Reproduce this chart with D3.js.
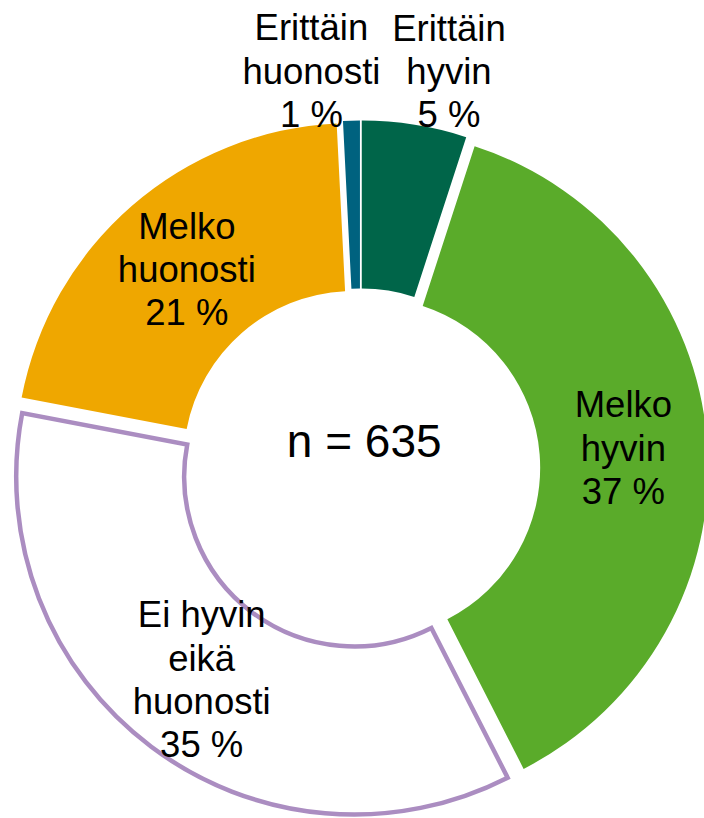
<!DOCTYPE html>
<html>
<head>
<meta charset="utf-8">
<script src="https://cdn.jsdelivr.net/npm/d3@7"></script>
<style>
  html, body { margin: 0; padding: 0; background: #ffffff; }
  svg { display: block; }
  text { font-family: "Liberation Sans", Arial, sans-serif; fill: #000000; }
</style>
</head>
<body>
<svg id="chart" width="704" height="818"></svg>
<script>
// ---- data ----
const categories = ["Erittäin hyvin", "Melko hyvin", "Ei hyvin eikä huonosti", "Melko huonosti", "Erittäin huonosti"];
const values = [5.0, 37.5, 35.5, 21.2, 0.8];
const percentLabels = ["5 %", "37 %", "35 %", "21 %", "1 %"];
const labelLines = [["Erittäin", "hyvin"], ["Melko", "hyvin"], ["Ei hyvin", "eikä", "huonosti"], ["Melko", "huonosti"], ["Erittäin", "huonosti"]];
const sampleSize = 635;

// ---- styles / layout ----
const fills   = ["#006549", "#5aab2a", "#ffffff", "#efa700", "#00627f"];
const strokes = ["none", "none", "#ab8dc1", "none", "none"];
const cx = 360.2, cy = 468.5;
const innerR = 170, outerR = 338;
const explode = 10;
const fontSize = 36.5, lineH = 43.3;
// manual placements for labels moved outside the ring: [angle deg, radius]
const outsideLabel = { "Erittäin hyvin": [12.6, 407], "Erittäin huonosti": [-7.0, 400.5] };

const svg = d3.select("#chart");
const g = svg.append("g").attr("transform", `translate(${cx},${cy})`);

const pie = d3.pie().sort(null).startAngle(0).endAngle(2 * Math.PI).value(d => d.value);
const arc = d3.arc().innerRadius(innerR).outerRadius(outerR);

const data = categories.map((c, i) => ({ cat: c, value: values[i], i }));
const arcs = pie(data);

const slices = g.selectAll("g.slice").data(arcs).enter().append("g")
  .attr("class", "slice")
  .attr("transform", d => {
    const m = (d.startAngle + d.endAngle) / 2;
    return `translate(${explode * Math.sin(m)},${-explode * Math.cos(m)})`;
  });

slices.append("path")
  .attr("d", arc)
  .attr("fill", d => fills[d.data.i])
  .attr("stroke", d => strokes[d.data.i])
  .attr("stroke-width", d => strokes[d.data.i] === "none" ? 0 : 4.5)
  .attr("stroke-linejoin", "miter");

// labels
arcs.forEach(d => {
  const i = d.data.i;
  const lines = labelLines[i].concat([percentLabels[i]]);
  let x, y;
  if (outsideLabel[d.data.cat]) {
    const [aDeg, r] = outsideLabel[d.data.cat];
    const a = aDeg * Math.PI / 180;
    x = r * Math.sin(a); y = -r * Math.cos(a);
  } else {
    const m = (d.startAngle + d.endAngle) / 2;
    const c = arc.centroid(d);
    x = c[0] + explode * Math.sin(m);
    y = c[1] - explode * Math.cos(m);
  }
  const t = g.append("text")
    .attr("text-anchor", "middle")
    .style("font-size", fontSize + "px");
  const n = lines.length;
  lines.forEach((ln, k) => {
    t.append("tspan")
      .attr("x", x)
      .attr("y", y + (k - (n - 1) / 2) * lineH + 0.35 * fontSize)
      .text(ln);
  });
});

// centre text
g.append("text")
  .attr("text-anchor", "middle")
  .attr("x", 4)
  .attr("y", -11.5)
  .style("font-size", "46px")
  .text("n = " + sampleSize);
</script>
</body>
</html>
